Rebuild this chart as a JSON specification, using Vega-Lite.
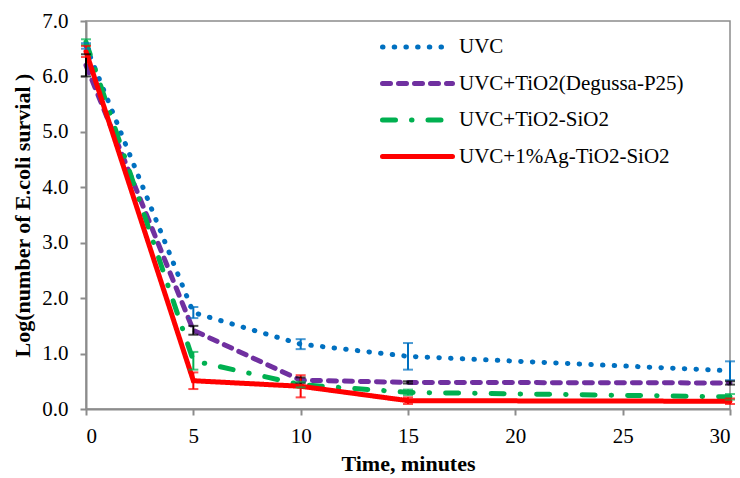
{
  "$schema": "https://vega.github.io/schema/vega-lite/v6.json",
  "width": 644,
  "height": 388,
  "autosize": "none",
  "padding": {"left": 86, "top": 21, "right": 10, "bottom": 69},
  "background": "white",
  "config": {
    "font": "Liberation Serif",
    "view": {"stroke": "#8c8c8c", "strokeWidth": 1.5},
    "axis": {"grid": false, "domainColor": "#8c8c8c", "domainWidth": 2, "tickColor": "#8c8c8c", "tickWidth": 2, "tickSize": 6, "labelFont": "Liberation Serif", "labelFontSize": 21, "labelColor": "black", "titleFont": "Liberation Serif", "titleFontSize": 22, "titleFontWeight": "bold", "titleColor": "black"},
    "legend": {"orient": "none", "legendX": 294, "legendY": 6, "title": null, "symbolType": "M-1,0H3", "symbolSize": 1225, "symbolStrokeWidth": 5, "labelFontSize": 21, "labelFont": "Liberation Serif", "labelColor": "black", "labelOffset": 39, "rowPadding": 6.5, "padding": 0, "labelLimit": 400}
  },
  "data": {"values": [
    {"series": "UVC", "t": 0, "y": 6.55, "lo": 6.5, "hi": 6.6},
    {"series": "UVC", "t": 5, "y": 1.74, "lo": 1.64, "hi": 1.84},
    {"series": "UVC", "t": 10, "y": 1.17, "lo": 1.08, "hi": 1.26},
    {"series": "UVC", "t": 15, "y": 0.95, "lo": 0.71, "hi": 1.19},
    {"series": "UVC", "t": 30, "y": 0.69, "lo": 0.52, "hi": 0.86},
    {"series": "UVC+TiO2(Degussa-P25)", "t": 0, "y": 6.2, "lo": 6.0, "hi": 6.4},
    {"series": "UVC+TiO2(Degussa-P25)", "t": 5, "y": 1.42, "lo": 1.34, "hi": 1.5},
    {"series": "UVC+TiO2(Degussa-P25)", "t": 10, "y": 0.52, "lo": 0.47, "hi": 0.57},
    {"series": "UVC+TiO2(Degussa-P25)", "t": 15, "y": 0.48, "lo": 0.46, "hi": 0.5},
    {"series": "UVC+TiO2(Degussa-P25)", "t": 30, "y": 0.47, "lo": 0.44, "hi": 0.5},
    {"series": "UVC+TiO2-SiO2", "t": 0, "y": 6.62, "lo": 6.57, "hi": 6.67},
    {"series": "UVC+TiO2-SiO2", "t": 5, "y": 0.87, "lo": 0.71, "hi": 1.03},
    {"series": "UVC+TiO2-SiO2", "t": 10, "y": 0.44, "lo": 0.39, "hi": 0.49},
    {"series": "UVC+TiO2-SiO2", "t": 15, "y": 0.3, "lo": 0.25, "hi": 0.35},
    {"series": "UVC+TiO2-SiO2", "t": 30, "y": 0.22, "lo": 0.17, "hi": 0.27},
    {"series": "UVC+1%Ag-TiO2-SiO2", "t": 0, "y": 6.45, "lo": 6.35, "hi": 6.55},
    {"series": "UVC+1%Ag-TiO2-SiO2", "t": 5, "y": 0.51, "lo": 0.36, "hi": 0.66},
    {"series": "UVC+1%Ag-TiO2-SiO2", "t": 10, "y": 0.41, "lo": 0.21, "hi": 0.61},
    {"series": "UVC+1%Ag-TiO2-SiO2", "t": 15, "y": 0.15, "lo": 0.09, "hi": 0.21},
    {"series": "UVC+1%Ag-TiO2-SiO2", "t": 30, "y": 0.14, "lo": 0.09, "hi": 0.19}
  ]},
  "layer": [
    {
      "mark": {"type": "line", "strokeWidth": 5, "strokeCap": "round"},
      "encoding": {
        "x": {"field": "t", "type": "quantitative", "scale": {"domain": [0, 30], "nice": false}, "axis": {"values": [0, 5, 10, 15, 20, 25, 30], "title": "Time, minutes", "labelPadding": 10, "titlePadding": 7}},
        "y": {"field": "y", "type": "quantitative", "scale": {"domain": [0, 7], "nice": false}, "axis": {"values": [0, 1, 2, 3, 4, 5, 6, 7], "format": ".1f", "title": "Log(number of E.coli survial )", "labelPadding": 12, "titlePadding": 7}},
        "color": {"field": "series", "type": "nominal", "scale": {"domain": ["UVC", "UVC+TiO2(Degussa-P25)", "UVC+TiO2-SiO2", "UVC+1%Ag-TiO2-SiO2"], "range": ["#0070C0", "#7030A0", "#00B050", "#FF0000"]},
          "legend": {"encode": {"symbols": {"update": {"strokeCap": {"value": "round"}}}}}},
        "strokeDash": {"field": "series", "type": "nominal", "scale": {"domain": ["UVC", "UVC+TiO2(Degussa-P25)", "UVC+TiO2-SiO2", "UVC+1%Ag-TiO2-SiO2"], "range": [[0.5, 11.2], [8, 8], [13, 16, 0.5, 16], [1, 0]]},
          "legend": {"encode": {"symbols": {"update": {"strokeCap": {"value": "round"}}}}}},
        "order": {"field": "t", "type": "quantitative"}
      }
    },
    {
      "mark": {"type": "rule", "strokeWidth": 2},
      "encoding": {
        "x": {"field": "t", "type": "quantitative"},
        "y": {"field": "lo", "type": "quantitative"},
        "y2": {"field": "hi"},
        "stroke": {"field": "series", "type": "nominal", "scale": {"domain": ["UVC", "UVC+TiO2(Degussa-P25)", "UVC+TiO2-SiO2", "UVC+1%Ag-TiO2-SiO2"], "range": ["#0070C0", "#000000", "#00B050", "#FF0000"]}, "legend": null}
      }
    },
    {
      "mark": {"type": "tick", "orient": "horizontal", "size": 10, "thickness": 2},
      "encoding": {
        "x": {"field": "t", "type": "quantitative"},
        "y": {"field": "lo", "type": "quantitative"},
        "fill": {"field": "series", "type": "nominal", "scale": {"domain": ["UVC", "UVC+TiO2(Degussa-P25)", "UVC+TiO2-SiO2", "UVC+1%Ag-TiO2-SiO2"], "range": ["#0070C0", "#000000", "#00B050", "#FF0000"]}, "legend": null}
      }
    },
    {
      "mark": {"type": "tick", "orient": "horizontal", "size": 10, "thickness": 2},
      "encoding": {
        "x": {"field": "t", "type": "quantitative"},
        "y": {"field": "hi", "type": "quantitative"},
        "fill": {"field": "series", "type": "nominal", "scale": {"domain": ["UVC", "UVC+TiO2(Degussa-P25)", "UVC+TiO2-SiO2", "UVC+1%Ag-TiO2-SiO2"], "range": ["#0070C0", "#000000", "#00B050", "#FF0000"]}, "legend": null}
      }
    }
  ]
}
